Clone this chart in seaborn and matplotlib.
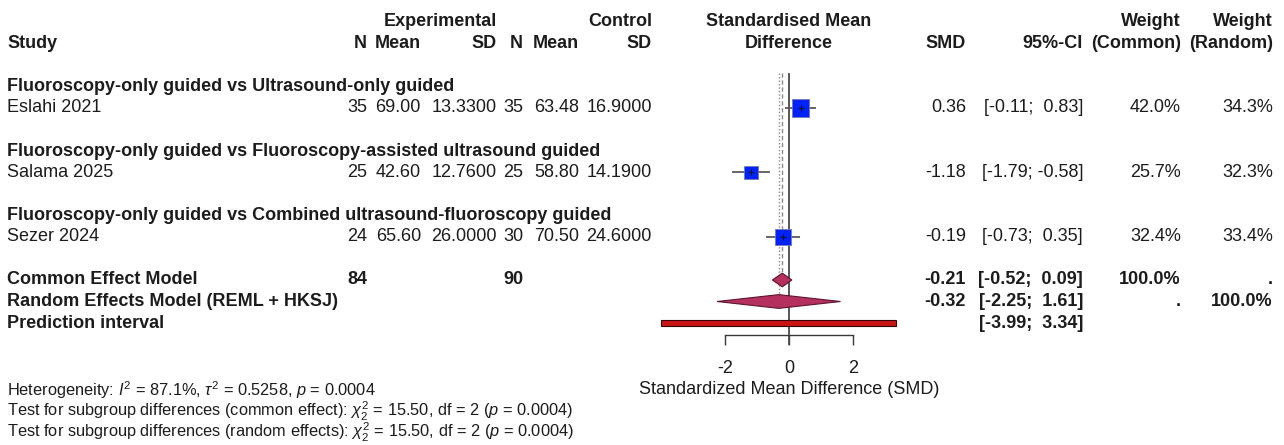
import numpy as np
import pandas as pd
import matplotlib
matplotlib.use("Agg")
import matplotlib.pyplot as plt
import matplotlib.transforms as mtransforms
import seaborn as sns

# ---------------- data ----------------
subgroups = [
    "Fluoroscopy-only guided vs Ultrasound-only guided",
    "Fluoroscopy-only guided vs Fluoroscopy-assisted ultrasound guided",
    "Fluoroscopy-only guided vs Combined ultrasound-fluoroscopy guided",
]
studies = ["Eslahi 2021", "Salama 2025", "Sezer 2024"]
exp_n = [35, 25, 24]
exp_mean = [69.00, 42.60, 65.60]
exp_sd = [13.33, 12.76, 26.00]
ctrl_n = [35, 25, 30]
ctrl_mean = [63.48, 58.80, 70.50]
ctrl_sd = [16.90, 14.19, 24.60]
smd = [0.36, -1.18, -0.19]
ci_low = [-0.11, -1.79, -0.73]
ci_high = [0.83, -0.58, 0.35]
weight_common = [42.0, 25.7, 32.4]
weight_random = [34.3, 32.3, 33.4]

total_exp_n = 84
total_ctrl_n = 90
common_model = [-0.21, -0.52, 0.09]      # est, low, high
random_model = [-0.32, -2.25, 1.61]
prediction_interval = [-3.99, 3.34]
axis_ticks = [-2, 0, 2]

footer_lines = [
    r"Heterogeneity: $I^2$ = 87.1%, $\tau^2$ = 0.5258, $p$ = 0.0004",
    r"Test for subgroup differences (common effect): $\chi^2_2$ = 15.50, df = 2 ($p$ = 0.0004)",
    r"Test for subgroup differences (random effects): $\chi^2_2$ = 15.50, df = 2 ($p$ = 0.0004)",
]

# ---------------- style ----------------
sns.set_theme(style="white")
plt.rcParams["font.family"] = ["Liberation Sans", "DejaVu Sans"]
plt.rcParams["mathtext.fontset"] = "custom"
plt.rcParams["mathtext.rm"] = "Liberation Sans"
plt.rcParams["mathtext.it"] = "Liberation Sans:italic"
plt.rcParams["mathtext.bf"] = "Liberation Sans:bold"
plt.rcParams["mathtext.sf"] = "Liberation Sans"

TXT = "#1c1c1c"
FS = 13
FS_SMALL = 11.8

W, H, DPI = 1284, 445, 100
fig = plt.figure(figsize=(W / DPI, H / DPI), dpi=DPI)
ax = fig.add_axes([0, 0, 1, 1])

ZERO_PX, UNIT_PX = 789, 32
ROW_PX, ROW1_PX = 21.5, 22
ax.set_xlim(-ZERO_PX / UNIT_PX, (W - ZERO_PX) / UNIT_PX)
ax.set_ylim(1 + (H - ROW1_PX) / ROW_PX, 1 - ROW1_PX / ROW_PX)

trans = mtransforms.blended_transform_factory(fig.transFigure, ax.transData)


def txt(px, row, s, ha="right", bold=False, size=FS, **kw):
    ax.text(px / W, row, s, transform=trans, ha=ha, va="center",
            fontsize=size, fontweight="bold" if bold else "normal",
            color=TXT, **kw)


# column right edges (pixels)
C_EN, C_EM, C_ES, C_CN, C_CM, C_CS = 367, 421, 497, 523, 579, 652
C_SMD, C_CI, C_WC, C_WR = 966, 1083, 1181, 1273
C_LEFT = 7

# header
txt(C_LEFT, 2, "Study", ha="left", bold=True)
txt(C_ES, 1, "Experimental", bold=True)
txt(C_CS, 1, "Control", bold=True)
for px, lab in zip([C_EN, C_EM, C_ES, C_CN, C_CM, C_CS],
                   ["N", "Mean", "SD", "N", "Mean", "SD"]):
    txt(px, 2, lab, bold=True)
txt(ZERO_PX, 1, "Standardised Mean", ha="center", bold=True)
txt(ZERO_PX, 2, "Difference", ha="center", bold=True)
txt(C_SMD, 2, "SMD", bold=True)
txt(C_CI, 2, "95%-CI", bold=True)
txt(C_WC, 1, "Weight", bold=True)
txt(C_WC, 2, "(Common)", bold=True)
txt(C_WR, 1, "Weight", bold=True)
txt(C_WR, 2, "(Random)", bold=True)


def ci_str(lo, hi):
    hs = f"{hi:.2f}"
    if hi >= 0:
        hs = " " + hs
    return f"[{lo:.2f}; {hs}]"


study_rows = []
for i in range(len(studies)):
    grow = 4 + 3 * i
    srow = grow + 1
    study_rows.append(srow)
    txt(C_LEFT, grow, subgroups[i], ha="left", bold=True)
    txt(C_LEFT, srow, studies[i], ha="left")
    txt(C_EN, srow, f"{exp_n[i]}")
    txt(C_EM, srow, f"{exp_mean[i]:.2f}")
    txt(C_ES, srow, f"{exp_sd[i]:.4f}")
    txt(C_CN, srow, f"{ctrl_n[i]}")
    txt(C_CM, srow, f"{ctrl_mean[i]:.2f}")
    txt(C_CS, srow, f"{ctrl_sd[i]:.4f}")
    txt(C_SMD, srow, f"{smd[i]:.2f}")
    txt(C_CI, srow, ci_str(ci_low[i], ci_high[i]))
    txt(C_WC, srow, f"{weight_common[i]:.1f}%")
    txt(C_WR, srow, f"{weight_random[i]:.1f}%")

ROW_COMMON, ROW_RANDOM, ROW_PRED = 13, 14, 15
txt(C_LEFT, ROW_COMMON, "Common Effect Model", ha="left", bold=True)
txt(C_EN, ROW_COMMON, f"{total_exp_n}", bold=True)
txt(C_CN, ROW_COMMON, f"{total_ctrl_n}", bold=True)
txt(C_SMD, ROW_COMMON, f"{common_model[0]:.2f}", bold=True)
txt(C_CI, ROW_COMMON, ci_str(common_model[1], common_model[2]), bold=True)
txt(C_WC, ROW_COMMON, "100.0%", bold=True)
txt(C_WR, ROW_COMMON, ".", bold=True)

txt(C_LEFT, ROW_RANDOM, "Random Effects Model (REML + HKSJ)", ha="left", bold=True)
txt(C_SMD, ROW_RANDOM, f"{random_model[0]:.2f}", bold=True)
txt(C_CI, ROW_RANDOM, ci_str(random_model[1], random_model[2]), bold=True)
txt(C_WC, ROW_RANDOM, ".", bold=True)
txt(C_WR, ROW_RANDOM, "100.0%", bold=True)

txt(C_LEFT, ROW_PRED, "Prediction interval", ha="left", bold=True)
txt(C_CI, ROW_PRED, ci_str(prediction_interval[0], prediction_interval[1]), bold=True)

# ---------------- forest marks ----------------
df = pd.DataFrame({"study": studies, "smd": smd, "lo": ci_low, "hi": ci_high,
                   "w": weight_common, "row": study_rows})

TOP_ROW = 3.37
AXIS_ROW = 15.56
DH = 0.32

ax.vlines(0, TOP_ROW, AXIS_ROW + 0.46, color="#4a4a4a", lw=1.3, zorder=1)
ax.vlines(common_model[0], TOP_ROW, ROW_COMMON - DH, color="#8a8a8a", lw=1.0,
          linestyles=(0, (3, 2)), zorder=1)
ax.vlines(random_model[0], TOP_ROW, ROW_RANDOM - DH, color="#8a8a8a", lw=1.0,
          linestyles=(0, (1, 1.5)), zorder=1)

ax.hlines(df["row"], df["lo"], df["hi"], color="#5a5a5a", lw=1.3, zorder=2)
sns.scatterplot(data=df, x="smd", y="row", size="w", sizes=(95, 165), marker="s",
                color="#0022ff", edgecolor="#7a7ab0", linewidth=0.6, legend=False,
                ax=ax, zorder=3)
ax.scatter(df["smd"], df["row"], marker="+", s=14, color="#111111", lw=0.8, zorder=4)

for est, lo, hi, row in [(*common_model, ROW_COMMON), (*random_model, ROW_RANDOM)]:
    ax.fill([lo, est, hi, est], [row, row - DH, row, row + DH],
            facecolor="#B3305F", edgecolor="#5e1532", lw=0.8, zorder=3)

ax.barh(ROW_PRED, width=prediction_interval[1] - prediction_interval[0],
        left=prediction_interval[0], height=0.24, color="#C81414",
        edgecolor="#3a0505", lw=0.8, zorder=3)

# ---------------- axis ----------------
for side in ["top", "left", "right"]:
    ax.spines[side].set_visible(False)
ax.spines["bottom"].set_position(("data", AXIS_ROW))
ax.spines["bottom"].set_bounds(axis_ticks[0], axis_ticks[-1])
ax.spines["bottom"].set_color("#3a3a3a")
ax.spines["bottom"].set_linewidth(1.0)
ax.set_xticks(axis_ticks)
ax.set_xticklabels([f"{t}" for t in axis_ticks])
ax.tick_params(axis="x", direction="out", length=7.2, width=1.0, color="#3a3a3a",
               pad=11, labelsize=FS, labelcolor=TXT, bottom=True)
ax.set_yticks([])
ax.set_xlabel("")
ax.set_ylabel("")
ax.grid(False)

ax.text(0, 18.08, "Standardized Mean Difference (SMD)", ha="center", va="center",
        fontsize=FS, color=TXT)

for k, line in enumerate(footer_lines):
    txt(C_LEFT, 18.1 + k * 1.0, line, ha="left", size=FS_SMALL)

fig.savefig("out.png", dpi=DPI)
